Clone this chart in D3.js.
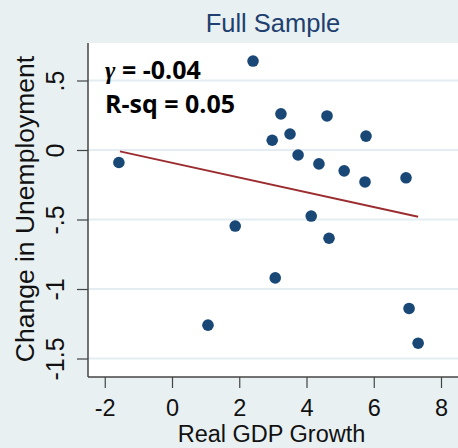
<!DOCTYPE html>
<html><head><meta charset="utf-8">
<script src="https://cdn.jsdelivr.net/npm/d3@7"></script>
<style>body{margin:0;background:#e8f0f2;}svg{display:block;}</style>
</head><body>
<svg id="c" width="458" height="448"></svg>
<script>
const gdpGrowth = [-1.58, 2.41, 3.24, 4.61, 5.77, 2.98, 3.51, 3.75, 4.37, 5.12, 5.74, 6.96, 4.14, 4.67, 1.88, 3.07, 1.07, 7.05, 7.32];
const unempChange = [-0.09, 0.64, 0.26, 0.245, 0.10, 0.07, 0.115, -0.036, -0.10, -0.15, -0.23, -0.20, -0.475, -0.635, -0.547, -0.92, -1.26, -1.14, -1.39];
const fitX = [-1.55, 7.32];
const fitY = [-0.01, -0.48];
const xTicks = [-2, 0, 2, 4, 6, 8];
const yTicks = [0.5, 0, -0.5, -1, -1.5];
const yTickLabels = [".5", "0", "-.5", "-1", "-1.5"];
const title = "Full Sample";
const xTitle = "Real GDP Growth";
const yTitle = "Change in Unemployment";
const annotGamma = " = -0.04";
const annotR = "R-sq = 0.05";

const svg = d3.select("#c");
const L = 88, T = 43, R = 458, B = 377;
const FONT = "Liberation Sans, Arial, sans-serif";
const x = d3.scaleLinear().domain([0, 8]).range([172, 441]);
const y = d3.scaleLinear().domain([0, 0.5]).range([150, 80.5]);

svg.append("rect").attr("width", 458).attr("height", 448).attr("fill", "#e8f0f2");
svg.append("rect").attr("x", L).attr("y", T).attr("width", R - L).attr("height", B - T).attr("fill", "#ffffff");

// grid
svg.append("g").selectAll("line").data(yTicks).join("line")
  .attr("x1", L).attr("x2", R).attr("y1", d => y(d)).attr("y2", d => y(d))
  .attr("stroke", "#e4edf1").attr("stroke-width", 2);

// y axis
const yAxis = d3.axisLeft(y).tickValues(yTicks).tickSize(11).tickFormat((d, i) => yTickLabels[i]);
const gy = svg.append("g").attr("transform", `translate(${L},0)`).call(yAxis);
gy.select(".domain").remove();
gy.append("line").attr("x1", 0).attr("x2", 0).attr("y1", T).attr("y2", B).attr("stroke", "#444").attr("stroke-width", 1.5);
gy.selectAll(".tick line").attr("stroke", "#444").attr("stroke-width", 1.2);
gy.selectAll(".tick text").attr("fill", "#111").attr("font-family", FONT)
  .attr("font-size", 25).attr("x", null).attr("dy", null)
  .attr("text-anchor", "middle")
  .attr("transform", "translate(-24.5,0) rotate(-90)");

// x axis
const xAxis = d3.axisBottom(x).tickValues(xTicks).tickSize(11).tickFormat(d => String(d));
const gx = svg.append("g").attr("transform", `translate(0,${B})`).call(xAxis);
gx.select(".domain").remove();
gx.append("line").attr("x1", L).attr("x2", R).attr("y1", 0).attr("y2", 0).attr("stroke", "#444").attr("stroke-width", 1.5);
gx.selectAll(".tick line").attr("stroke", "#444").attr("stroke-width", 1.2);
gx.selectAll(".tick text").attr("fill", "#111").attr("font-family", FONT)
  .attr("font-size", 23.5).attr("y", 38.5).attr("dy", null);

// fit line
svg.append("line")
  .attr("x1", x(fitX[0])).attr("y1", y(fitY[0])).attr("x2", x(fitX[1])).attr("y2", y(fitY[1]))
  .attr("stroke", "#9b2d30").attr("stroke-width", 2);

// points
svg.append("g").selectAll("circle").data(gdpGrowth).join("circle")
  .attr("cx", d => x(d)).attr("cy", (d, i) => y(unempChange[i])).attr("r", 5.8)
  .attr("fill", "#1a4876");

// titles
svg.append("text").attr("x", 273).attr("y", 32).attr("text-anchor", "middle")
  .attr("font-family", FONT).attr("font-size", 25.5).attr("fill", "#1e3f6f").text(title);
svg.append("text").attr("x", 271.5).attr("y", 442).attr("text-anchor", "middle")
  .attr("font-family", FONT).attr("font-size", 23.5).attr("fill", "#111").text(xTitle);
svg.append("text").attr("transform", "translate(33.5,209) rotate(-90)").attr("text-anchor", "middle")
  .attr("font-family", FONT).attr("font-size", 26.5).attr("fill", "#111").text(yTitle);

// annotation
const a1 = svg.append("text").attr("x", 105).attr("y", 79)
  .attr("font-family", "Open Sans, sans-serif").attr("font-weight", "bold").attr("font-size", 25).attr("fill", "#000");
a1.append("tspan").attr("font-style", "italic").attr("font-family", "Liberation Serif, serif").text("γ");
a1.append("tspan").text(annotGamma);
svg.append("text").attr("x", 105).attr("y", 113)
  .attr("font-family", "Open Sans, sans-serif").attr("font-weight", "bold").attr("font-size", 25).attr("fill", "#000").text(annotR);
</script>
</body></html>
